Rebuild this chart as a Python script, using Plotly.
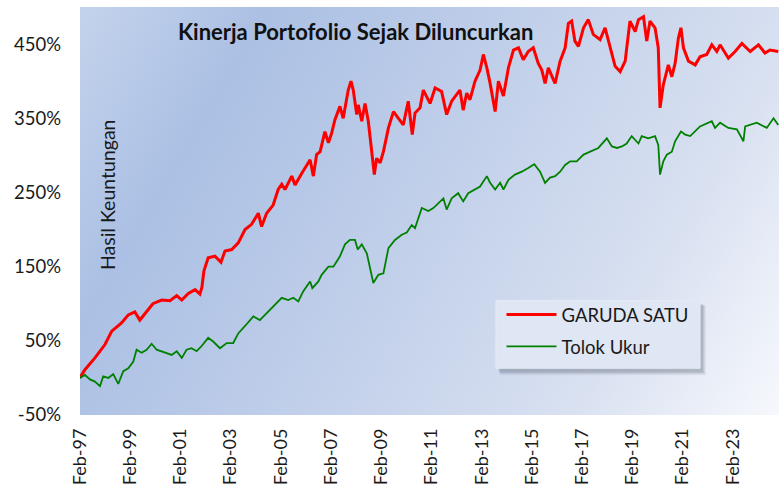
import base64
import pandas as pd
import plotly.graph_objects as go

# ---------------- data ----------------
red_years = [1997.08, 1997.28, 1997.68, 1998.08, 1998.35, 1998.74, 1999.01, 1999.27, 1999.47, 1999.74,
             1999.99, 2000.34, 2000.67, 2000.94, 2001.14, 2001.40, 2001.67, 2001.86, 2001.94, 2002.02,
             2002.19, 2002.46, 2002.70, 2002.86, 2003.13, 2003.39, 2003.66, 2003.92, 2004.19, 2004.32,
             2004.52, 2004.78, 2004.98, 2005.12, 2005.25, 2005.52, 2005.65, 2005.92, 2006.25, 2006.38,
             2006.51, 2006.65, 2006.84, 2006.98, 2007.11, 2007.24, 2007.44, 2007.57, 2007.77, 2007.88,
             2007.97, 2008.11, 2008.17, 2008.31, 2008.44, 2008.57, 2008.71, 2008.81, 2008.90, 2009.04,
             2009.17, 2009.37, 2009.57, 2009.76, 2009.96, 2010.16, 2010.32, 2010.43, 2010.63, 2010.76,
             2011.03, 2011.23, 2011.49, 2011.69, 2011.89, 2012.22, 2012.35, 2012.49, 2012.62, 2012.82,
             2013.02, 2013.15, 2013.29, 2013.42, 2013.62, 2013.75, 2013.95, 2014.15, 2014.35, 2014.55,
             2014.74, 2014.94, 2015.14, 2015.34, 2015.48, 2015.61, 2015.74, 2015.94, 2016.01, 2016.21,
             2016.41, 2016.54, 2016.67, 2016.80, 2016.94, 2017.14, 2017.33, 2017.53, 2017.80, 2018.00,
             2018.20, 2018.40, 2018.60, 2018.80, 2018.99, 2019.20, 2019.33, 2019.53, 2019.66, 2019.79,
             2019.99, 2020.12, 2020.19, 2020.32, 2020.52, 2020.66, 2020.79, 2020.92, 2021.02, 2021.12,
             2021.32, 2021.59, 2021.78, 2022.05, 2022.25, 2022.45, 2022.58, 2022.91, 2023.18, 2023.45,
             2023.78, 2024.11, 2024.37, 2024.57, 2024.90]
red_vals = [0, 11, 27, 45, 63, 74, 85, 89, 78, 89,
            100, 105, 104, 111, 105, 114, 119, 113, 122, 144,
            162, 164, 156, 171, 173, 182, 200, 207, 222, 204,
            222, 233, 254, 261, 254, 272, 260, 276, 294, 272,
            301, 305, 332, 317, 330, 348, 366, 350, 388, 400,
            388, 355, 368, 346, 370, 346, 305, 274, 296, 290,
            305, 337, 359, 350, 341, 373, 328, 357, 364, 388,
            370, 391, 386, 355, 373, 388, 361, 384, 375, 400,
            415, 436, 418, 397, 359, 400, 380, 418, 442, 445,
            429, 440, 445, 424, 415, 397, 418, 402, 397, 427,
            445, 478, 481, 454, 447, 472, 483, 463, 456, 472,
            445, 420, 413, 427, 481, 467, 483, 487, 454, 481,
            472, 445, 364, 395, 422, 406, 424, 458, 472, 445,
            427, 422, 433, 436, 449, 440, 449, 431, 440, 451,
            440, 449, 438, 442, 440]

green_years = [1997.08, 1997.28, 1997.48, 1997.68, 1997.88, 1998.01, 1998.21, 1998.41, 1998.61, 1998.81,
               1999.01, 1999.21, 1999.34, 1999.54, 1999.74, 1999.94, 2000.14, 2000.34, 2000.54, 2000.74,
               2000.94, 2001.14, 2001.33, 2001.53, 2001.73, 2001.93, 2002.19, 2002.39, 2002.66, 2002.93,
               2003.19, 2003.39, 2003.66, 2003.99, 2004.25, 2004.52, 2004.85, 2005.12, 2005.38, 2005.58,
               2005.78, 2005.98, 2006.25, 2006.34, 2006.58, 2006.71, 2006.98, 2007.18, 2007.44, 2007.64,
               2007.84, 2008.04, 2008.15, 2008.31, 2008.51, 2008.64, 2008.77, 2008.97, 2009.17, 2009.37,
               2009.63, 2009.90, 2010.10, 2010.30, 2010.43, 2010.70, 2010.96, 2011.16, 2011.36, 2011.56,
               2011.69, 2011.89, 2012.15, 2012.35, 2012.55, 2012.82, 2013.02, 2013.29, 2013.42, 2013.62,
               2013.82, 2013.95, 2014.15, 2014.41, 2014.68, 2014.94, 2015.18, 2015.41, 2015.61, 2015.81,
               2016.01, 2016.21, 2016.41, 2016.61, 2016.87, 2017.14, 2017.40, 2017.73, 2018.07, 2018.27,
               2018.47, 2018.67, 2018.86, 2019.06, 2019.33, 2019.46, 2019.72, 2019.99, 2020.12, 2020.19,
               2020.32, 2020.46, 2020.66, 2020.79, 2021.02, 2021.19, 2021.39, 2021.78, 2022.25, 2022.38,
               2022.58, 2022.91, 2023.25, 2023.51, 2023.58, 2024.04, 2024.44, 2024.71, 2024.90]
green_vals = [0, 4, -2, -5, -11, 2, 0, 5, -8, 9,
              13, 22, 38, 34, 38, 46, 38, 36, 34, 31,
              36, 27, 38, 40, 36, 43, 54, 49, 40, 47,
              47, 60, 70, 83, 78, 87, 99, 108, 105, 108,
              103, 117, 130, 121, 130, 139, 150, 150, 164, 180,
              186, 186, 173, 180, 168, 148, 128, 139, 141, 175,
              186, 193, 196, 206, 202, 229, 225, 229, 236, 242,
              227, 242, 249, 238, 249, 254, 258, 272, 263, 254,
              263, 254, 267, 274, 278, 283, 288, 278, 263, 270,
              272, 278, 287, 292, 292, 301, 305, 310, 323, 312,
              310, 312, 316, 326, 316, 326, 323, 326, 314, 274,
              292, 301, 305, 319, 332, 328, 326, 339, 346, 337,
              344, 337, 335, 319, 339, 344, 337, 350, 341]

y_tickvals = [-50, 50, 150, 250, 350, 450]
y_ticktext = ["-50%", "50%", "150%", "250%", "350%", "450%"]

series_names = ["GARUDA SATU", "Tolok Ukur"]
chart_title = "Kinerja Portofolio Sejak Diluncurkan"
y_title = "Hasil Keuntungan"


def to_dates(years):
    out = []
    for y in years:
        base = int(y)
        out.append(pd.Timestamp(year=base, month=1, day=1) + pd.Timedelta(days=(y - base) * 365.25))
    return out


# ---------------- gradient background (SVG image) ----------------
svg = (
    '<svg xmlns="http://www.w3.org/2000/svg" width="700" height="410" viewBox="0 0 700 410" '
    'preserveAspectRatio="none"><defs><linearGradient id="g" gradientUnits="userSpaceOnUse" '
    'x1="0" y1="0" x2="700" y2="410">'
    '<stop offset="0" stop-color="#c4d3ec"/>'
    '<stop offset="0.2" stop-color="#abc0e4"/>'
    '<stop offset="0.5" stop-color="#c2d0ea"/>'
    '<stop offset="0.78" stop-color="#d9e1f1"/>'
    '<stop offset="1" stop-color="#f6f8fc"/>'
    '</linearGradient></defs><rect width="700" height="410" fill="url(#g)"/></svg>'
)
svg_uri = "data:image/svg+xml;base64," + base64.b64encode(svg.encode()).decode()

FONT = "Lato"
TICK_SIZE = 18.5

fig = go.Figure()
fig.add_trace(go.Scatter(x=to_dates(red_years), y=red_vals, mode="lines", name=series_names[0],
                         line=dict(color="#ff0000", width=3), legendgroup="a"))
fig.add_trace(go.Scatter(x=to_dates(green_years), y=green_vals, mode="lines", name=series_names[1],
                         line=dict(color="#008000", width=1.8), legendgroup="b"))

# legend box + soft shadow
lx0, lx1, ly0, ly1 = 0.5951, 0.887, 0.1146, 0.2805
shapes = []
for i, op in enumerate([0.06, 0.08, 0.10, 0.12]):
    d = 4 - i
    shapes.append(dict(type="rect", xref="paper", yref="paper",
                       x0=lx0 + (2 + d * 0.6) / 699, x1=lx1 + (2 + d) / 699,
                       y0=ly0 - (3 + d) / 410, y1=ly1 - (3 + d * 0.6) / 410,
                       fillcolor=f"rgba(60,70,90,{op})", line=dict(width=0), layer="below"))
shapes.append(dict(type="rect", xref="paper", yref="paper", x0=lx0, x1=lx1, y0=ly0, y1=ly1,
                   fillcolor="#e0e7f4", line=dict(color="#e6ebf5", width=1), layer="below"))

fig.update_layout(
    width=782, height=488,
    margin=dict(l=80, r=3, t=7, b=71),
    paper_bgcolor="white",
    plot_bgcolor="rgba(0,0,0,0)",
    font=dict(family=FONT, size=TICK_SIZE, color="#1a1a1a"),
    images=[dict(source=svg_uri, xref="paper", yref="paper", x=0, y=1, sizex=1, sizey=1,
                 sizing="stretch", layer="below", xanchor="left", yanchor="top")],
    shapes=shapes,
    showlegend=True,
    legend=dict(x=0.603, y=0.292, xanchor="left", yanchor="top", bgcolor="rgba(0,0,0,0)",
                font=dict(family=FONT, size=18.5, color="#1a1a1a"), tracegroupgap=5,
                itemwidth=50),
    annotations=[
        dict(text="<b>" + chart_title + "</b>", xref="paper", yref="paper",
             x=(355 - 80) / 699, y=(417 - 32) / 410, xanchor="center", yanchor="middle",
             showarrow=False, font=dict(family=FONT, size=22, color="#111111")),
        dict(text=y_title, xref="paper", yref="paper", x=(107 - 80) / 699, y=(417 - 196) / 410,
             xanchor="center", yanchor="middle", textangle=-90, showarrow=False,
             font=dict(family=FONT, size=19.5, color="#1a1a1a")),
    ],
)

fig.update_xaxes(type="date", range=["1997-02-01", "2024-12-05"], tickformat="%b-%y",
                 dtick="M24", tick0="1997-02-01", tickangle=-90, ticks="", showgrid=False,
                 zeroline=False, showline=False, ticklabelstandoff=9,
                 tickfont=dict(family=FONT, size=18, color="#1a1a1a"))
fig.update_yaxes(range=[-50, 500], tickvals=y_tickvals, ticktext=y_ticktext, ticks="",
                 showgrid=False, zeroline=False, showline=False, ticklabelstandoff=18,
                 tickfont=dict(family=FONT, size=TICK_SIZE, color="#1a1a1a"))

fig.write_html("out.html", config={"displayModeBar": False},
               post_script="document.body.style.margin='0';")
